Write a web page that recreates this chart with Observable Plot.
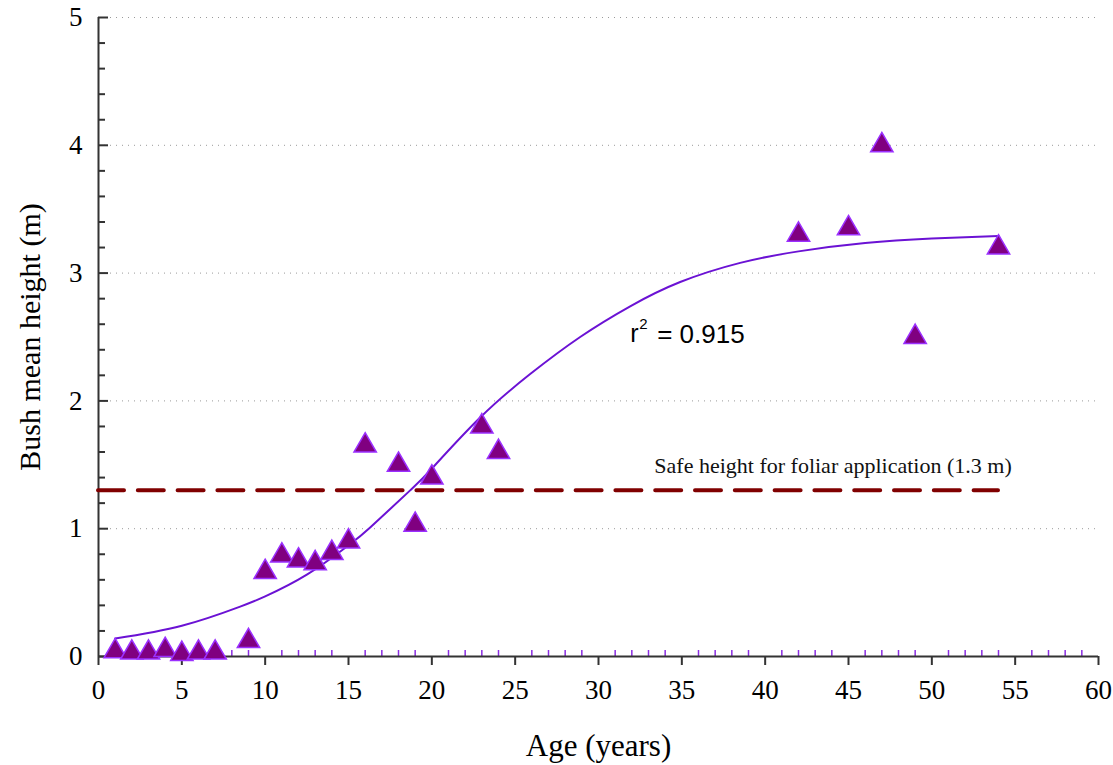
<!DOCTYPE html>
<html>
<head>
<meta charset="utf-8">
<script src="https://cdn.jsdelivr.net/npm/d3@7"></script>
<script src="https://cdn.jsdelivr.net/npm/@observablehq/plot@0.6"></script>
<style>
  html, body { margin: 0; padding: 0; background: white; }
</style>
</head>
<body>
<div id="chart"></div>
<script>
// Observed data: age (years) vs bush mean height (m)
const ages    = [1, 2, 3, 4, 5, 6, 7, 9, 10, 11, 12, 13, 14, 15, 16, 18, 19, 20, 23, 24, 42, 45, 47, 49, 54];
const heights = [0.04, 0.03, 0.03, 0.05, 0.02, 0.03, 0.03, 0.12, 0.66, 0.79, 0.75, 0.73, 0.81, 0.90, 1.65, 1.50, 1.03, 1.40, 1.80, 1.60, 3.30, 3.35, 4.00, 2.50, 3.20];

// Fitted curve
const fitAges    = [1, 5, 8.5, 10, 12.5, 15, 16.3, 18.7, 20, 22.9, 25.9, 28.9, 31.9, 34.9, 38.5, 42, 46, 50, 54];
const fitHeights = [0.14, 0.24, 0.39, 0.47, 0.64, 0.87, 1.01, 1.30, 1.47, 1.87, 2.21, 2.50, 2.74, 2.93, 3.08, 3.17, 3.235, 3.27, 3.29];

// Safe height threshold
const safeHeight = [1.3];
const safeRange = [0, 54];
const safeLabel = ["Safe height for foliar application (1.3 m)"];
const fitLabelParts = ["r", "2", "= 0.915"];

// Tick labels
const xTicks = [0, 5, 10, 15, 20, 25, 30, 35, 40, 45, 50, 55, 60];
const xMinorTicks = d3.range(1, 60).filter(d => d % 5 !== 0);
const yTicks = [0, 1, 2, 3, 4, 5];
const yMinorTicks = d3.range(1, 25).filter(d => d % 5 !== 0).map(d => d / 5);
const yGrid = [1, 2, 3, 4, 5];

const points = ages.map((a, i) => ({age: a, height: heights[i]}));
const fit = fitAges.map((a, i) => ({age: a, height: fitHeights[i]}));

const axisColor = "#333333";
const sans = "'Liberation Sans', Arial, sans-serif";

const chart = Plot.plot({
  width: 1113,
  height: 765,
  marginLeft: 98,
  marginRight: 15,
  marginTop: 17,
  marginBottom: 109,
  style: {fontFamily: "'Liberation Serif', 'Times New Roman', serif", background: "white", color: "black"},
  x: {domain: [0, 60]},
  y: {domain: [0, 5]},
  marks: [
    Plot.ruleY(yGrid, {stroke: "#9a9a9a", strokeWidth: 1, strokeDasharray: "1 5"}),
    // minor purple ticks on x axis (pointing up)
    Plot.ruleX(xMinorTicks, {y1: 0, y2: 0.047, stroke: "#8a2be2", strokeWidth: 1.5}),
    // y axis ticks inside
    Plot.ruleY(yTicks, {x1: 0, x2: 0.6, stroke: axisColor, strokeWidth: 2}),
    Plot.ruleY(yMinorTicks, {x1: 0, x2: 0.42, stroke: axisColor, strokeWidth: 2}),
    Plot.axisX({ticks: xTicks, tickSize: 9, tickPadding: 14, fontSize: 27, label: null, stroke: axisColor, strokeWidth: 2, fill: "black", tickFormat: d => d}),
    Plot.axisY({ticks: yTicks, tickSize: 0, tickPadding: 16, fontSize: 27, label: null, fill: "black", tickFormat: d => d}),
    Plot.ruleX([0], {stroke: axisColor, strokeWidth: 2}),
    Plot.ruleY([0], {stroke: axisColor, strokeWidth: 2}),
    // safe height dashed line
    Plot.ruleY(safeHeight, {x1: safeRange[0], x2: safeRange[1], stroke: "#800000", strokeWidth: 4, strokeDasharray: "26 13.8", strokeLinecap: "round"}),
    Plot.text(safeLabel, {x: 33.35, y: 1.49, text: d => d, textAnchor: "start", fontSize: 22, fill: "#111"}),
    // fitted curve
    Plot.line(fit, {x: "age", y: "height", stroke: "#6b12d4", strokeWidth: 2, curve: "natural"}),
    // observations
    Plot.dot(points, {x: "age", y: "height", symbol: "triangle", r: 8.3, fill: "#800080", stroke: "#9b30ff", strokeWidth: 1.5, fillOpacity: 1}),
    // r² label
    Plot.text([fitLabelParts[0]], {x: 31.9, y: 2.52, text: d => d, textAnchor: "start", fontSize: 25, fontFamily: sans, fill: "black"}),
    Plot.text([fitLabelParts[1]], {x: 31.9, y: 2.52, dx: 9, dy: -10, text: d => d, textAnchor: "start", fontSize: 15, fontFamily: sans, fill: "black"}),
    Plot.text([fitLabelParts[2]], {x: 31.9, y: 2.52, dx: 27, text: d => d, textAnchor: "start", fontSize: 26, fontFamily: sans, fill: "black"}),
    // axis titles
    Plot.text(["Age (years)"], {frameAnchor: "bottom", dy: 90, text: d => d, fontSize: 31, textAnchor: "middle", lineAnchor: "middle", fill: "black", letterSpacing: "0.6px"}),
    Plot.text(["Bush mean height (m)"], {frameAnchor: "left", dx: -68, rotate: -90, text: d => d, fontSize: 30, textAnchor: "middle", lineAnchor: "middle", fill: "black"})
  ]
});

document.getElementById("chart").appendChild(chart);
</script>
</body>
</html>
